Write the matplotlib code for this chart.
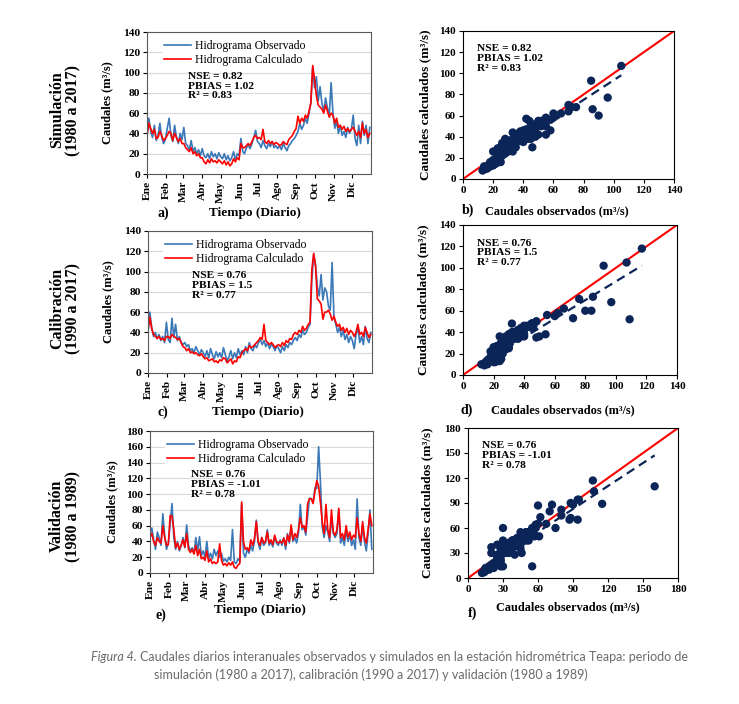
import numpy as np
import matplotlib
matplotlib.use('Agg')
import matplotlib.pyplot as plt

plt.rcParams['font.family'] = ['Liberation Serif', 'DejaVu Serif']
plt.rcParams['font.weight'] = 'bold'

W, H = 739, 704
BLUE = '#3A78B8'
RED = '#FF0000'
NAVY = '#0B2559'

# one value every 3 days (day 0, 3, ..., 363)
days = np.arange(0, 365, 3)
month_starts = [0, 31, 59, 90, 120, 151, 181, 212, 243, 273, 304, 334]
month_labels = ['Ene', 'Feb', 'Mar', 'Abr', 'May', 'Jun', 'Jul', 'Ago', 'Sep', 'Oct', 'Nov', 'Dic']

# simulacion 1980-2017
obs_sim = [40, 55, 42, 36, 48, 33, 38, 50, 36, 30, 34,
           45, 55, 38, 32, 48, 36, 30, 40, 34,
           46, 30, 28, 24, 33, 22, 26, 20, 24, 18,
           25, 18, 16, 20, 15, 22, 17, 20, 15, 21,
           17, 15, 20, 14, 18, 13, 16, 22, 14, 20, 18,
           35, 22, 20, 26, 28, 25, 30, 36, 43, 32,
           30, 26, 33, 28, 25, 30, 27, 32, 26, 28,
           25, 28, 24, 30, 26, 23, 28, 30, 33, 35,
           38, 42, 50, 44, 48, 55, 50, 60, 70, 105,
           85, 96, 72, 86, 70, 62, 75, 65, 58, 90, 60,
           45, 52, 40, 48, 38, 42, 36, 46, 40, 44,
           58, 35, 28, 48, 30, 52, 38, 48, 30, 46]
calc_sim = [38, 50, 45, 40, 44, 35, 36, 42, 38, 33, 35,
            38, 42, 40, 33, 40, 36, 32, 35, 30,
            30, 26, 24, 22, 26, 20, 22, 18, 20, 16,
            16, 12, 10, 14, 11, 15, 12, 13, 11, 14,
            12, 10, 13, 9, 12, 8, 10, 15, 12, 16, 14,
            30, 26, 26, 28, 30, 28, 32, 36, 38, 35,
            36, 34, 44, 32, 30, 33, 30, 32, 29, 31,
            30, 28, 29, 32, 30, 29, 34, 36, 38, 42,
            45, 57, 50, 55, 52, 58, 55, 62, 70, 107,
            93, 77, 68, 66, 64, 60, 68, 62, 56, 60, 58,
            50, 55, 46, 48, 44, 47, 42, 45, 42, 44,
            46, 42, 38, 42, 36, 50, 40, 44, 36, 40]

# calibracion 1990-2017
obs_cal = [40, 60, 45, 36, 40, 34, 38, 32, 36, 30, 50,
           33, 30, 54, 35, 48, 32, 36, 30, 28,
           30, 26, 28, 22, 24, 20, 26, 22, 18, 23,
           20, 16, 22, 15, 24, 18, 14, 21, 16, 20,
           15, 25, 18, 12, 16, 22, 14, 20, 15, 24, 18,
           22, 18, 26, 20, 30, 24, 22, 28, 25, 30,
           33, 28, 32, 26, 30, 24, 28, 26, 22, 27,
           24, 20, 26, 22, 28, 25, 30, 28, 32, 35,
           32, 38, 35, 42, 38, 40, 45, 48, 92, 117,
           107, 85, 76, 97, 72, 84, 80, 66, 62, 109, 55,
           48, 40, 45, 36, 42, 33, 38, 30, 36, 32,
           24, 38, 45, 30, 36, 28, 46, 34, 30, 40]
calc_cal = [42, 55, 44, 38, 36, 34, 36, 33, 34, 32, 36,
            36, 34, 38, 36, 35, 33, 34, 30, 26,
            25, 22, 24, 20, 21, 19, 20, 18, 17, 19,
            16, 14, 15, 12, 13, 14, 11, 12, 10, 13,
            12, 15, 14, 10, 12, 14, 9, 12, 11, 16, 15,
            20, 22, 24, 22, 27, 25, 26, 28, 30, 32,
            35, 33, 48, 32, 30, 28, 30, 28, 25, 27,
            28, 26, 30, 27, 32, 30, 34, 33, 38, 40,
            38, 42, 40, 46, 42, 44, 48, 50, 102, 118,
            105, 73, 71, 68, 53, 60, 60, 62, 58, 52, 56,
            50, 46, 48, 42, 45, 40, 44, 38, 42, 40,
            36, 40, 48, 38, 40, 36, 45, 40, 35, 38]

# validacion 1980-1989
obs_val = [50, 57, 42, 30, 52, 45, 35, 75, 48, 30, 38,
           62, 88, 45, 30, 40, 28, 35, 45, 32,
           61, 35, 28, 32, 25, 45, 28, 46, 22, 28,
           20, 40, 18, 25, 18, 30, 22, 28, 20, 25,
           15, 18, 14, 20, 16, 55, 14, 12, 18, 15, 88,
           25, 20, 30, 25, 35, 28, 40, 67, 38, 30,
           45, 35, 38, 55, 35, 40, 33, 45, 38, 35,
           42, 35, 45, 30, 50, 38, 58, 40, 45, 38,
           50, 87, 55, 58, 48, 72, 95, 94, 90, 108,
           107, 160, 115, 58, 45, 60, 52, 40, 70, 50, 45,
           50, 80, 38, 45, 35, 55, 40, 48, 35, 42,
           30, 94, 45, 35, 60, 40, 28, 50, 80, 30]
calc_val = [45, 50, 40, 35, 45, 40, 38, 60, 45, 35, 36,
            73, 72, 55, 32, 38, 30, 35, 42, 33,
            50, 30, 26, 30, 24, 35, 22, 30, 18, 20,
            16, 28, 14, 18, 12, 14, 12, 14, 37, 16,
            10, 12, 9, 13, 10, 14, 7, 6, 10, 12, 90,
            40, 30, 32, 28, 42, 35, 44, 65, 40, 35,
            45, 38, 40, 52, 38, 42, 36, 48, 40, 38,
            40, 38, 44, 35, 48, 40, 61, 42, 50, 45,
            55, 70, 58, 60, 52, 88, 94, 94, 88, 104,
            117, 110, 89, 64, 50, 87, 55, 45, 80, 52, 48,
            55, 82, 45, 50, 42, 60, 45, 52, 42, 48,
            45, 70, 50, 40, 65, 45, 38, 55, 75, 60]

stats_sim = 'NSE = 0.82\nPBIAS = 1.02\nR² = 0.83'
stats_cal = 'NSE = 0.76\nPBIAS = 1.5\nR² = 0.77'
stats_val = 'NSE = 0.76\nPBIAS = -1.01\nR² = 0.78'

# trend lines (slope, intercept)
trend_sim = (0.93, 0.5)
trend_cal = (0.87, 0.3)
trend_val = (0.92, 0.0)


def rect(x0, y0, x1, y1):
    return [x0 / W, 1 - y1 / H, (x1 - x0) / W, (y1 - y0) / H]


def ftext(x, y, s, **kw):
    return fig.text(x / W, 1 - y / H, s, ha='center', va='center', **kw)


def style_ax(ax, color='#404040', size=8):
    for sp in ax.spines.values():
        sp.set_linewidth(0.8)
        sp.set_color(color)
    ax.tick_params(direction='out', length=3, width=0.8, labelsize=size, pad=2)


def ts_panel(box, obs, calc, ymax, stats, stats_pos):
    ax = fig.add_axes(rect(*box))
    ax.plot(days, obs, color=BLUE, lw=1.2, label='Hidrograma Observado')
    ax.plot(days, calc, color=RED, lw=1.2, label='Hidrograma Calculado')
    ax.set_xlim(0, 365)
    ax.set_ylim(0, ymax)
    ax.set_yticks(np.arange(0, ymax + 1, 20))
    ax.set_xticks(month_starts)
    ax.set_xticklabels(month_labels, rotation=90)
    ax.yaxis.grid(True, color='#d9d9d9', lw=0.8)
    ax.set_axisbelow(True)
    style_ax(ax, color='#595959', size=8.2)
    ax.legend(loc='upper left', bbox_to_anchor=(0.04, 1.0), frameon=True,
              facecolor='white', edgecolor='none', framealpha=1,
              prop={'weight': 'normal', 'size': 8.5}, handlelength=2.3,
              handletextpad=0.3, labelspacing=0.15, borderpad=0.2)
    ax.text(stats_pos[0], stats_pos[1], stats, transform=ax.transAxes,
            fontsize=8.2, va='top', ha='left', linespacing=1.12)
    return ax


def sc_panel(box, obs, calc, lim, step, trend, stats):
    ax = fig.add_axes(rect(*box))
    ax.plot([0, lim], [0, lim], color=RED, lw=1.5, zorder=1)
    xs = np.array([min(obs), max(obs)])
    ax.plot(xs, trend[0] * xs + trend[1], color=NAVY, lw=1.6,
            ls=(0, (4, 2.5)), zorder=1)
    ax.scatter(obs, calc, s=36, color=NAVY, edgecolors='none', zorder=2)
    ax.set_xlim(0, lim)
    ax.set_ylim(0, lim)
    ax.set_xticks(np.arange(0, lim + 1, step))
    ax.set_yticks(np.arange(0, lim + 1, step))
    style_ax(ax, color='black', size=8)
    ax.text(0.065, 0.91, stats, transform=ax.transAxes, fontsize=8.2,
            va='top', ha='left', linespacing=1.12)
    return ax


fig = plt.figure(figsize=(W / 100, H / 100), dpi=100)

ts_panel((147, 32, 371, 174), obs_sim, calc_sim, 140, stats_sim, (0.185, 0.72))
ts_panel((148, 231, 372, 373), obs_cal, calc_cal, 140, stats_cal, (0.195, 0.715))
ts_panel((150, 431, 373, 573), obs_val, calc_val, 180, stats_val, (0.185, 0.725))

sc_panel((463, 31, 674, 179), obs_sim, calc_sim, 140, 20, trend_sim, stats_sim)
sc_panel((463, 225, 677, 375), obs_cal, calc_cal, 140, 20, trend_cal, stats_cal)
sc_panel((468, 428, 678, 578), obs_val, calc_val, 180, 30, trend_val, stats_val)

# row titles
for (y, l1, l2) in [(110, 'Simulación', '(1980 a 2017)'),
                    (308, 'Calibración', '(1990 a 2017)'),
                    (516, 'Validación', '(1980 a 1989)')]:
    ftext(57, y, l1, rotation=90, fontsize=11.5)
    ftext(73, y, l2, rotation=90, fontsize=11.5)

# axis labels and panel letters
for (yc, xl) in [(103, 107), (302, 108), (502, 112)]:
    ftext(xl, yc, 'Caudales (m³/s)', rotation=90, fontsize=9)
for (yc, xl) in [(105, 425), (300, 423), (503, 427)]:
    ftext(xl, yc, 'Caudales calculados (m³/s)', rotation=90, fontsize=9.5)
for (x, y) in [(255, 213), (258, 412), (260, 610)]:
    ftext(x, y, 'Tiempo (Diario)', fontsize=9.5)
for (x, y) in [(557, 211), (563, 410), (568, 607)]:
    ftext(x, y, 'Caudales observados (m³/s)', fontsize=8.8)
for (x, y, s) in [(163, 213, 'a)'), (468, 210, 'b)'), (163, 412, 'c)'),
                  (467, 410, 'd)'), (161, 615, 'e)'), (473, 613, 'f)')]:
    ftext(x, y, s, fontsize=10)

# caption
cap = dict(family=['Lato', 'DejaVu Sans'], fontsize=9, color='#6a6a6a',
           weight='normal', va='center')
t1 = fig.text(91 / W, 1 - 657 / H, 'Figura 4.', style='italic', ha='left', **cap)
renderer = fig.canvas.get_renderer()
bb = t1.get_window_extent(renderer)
fig.text((bb.x1 + 3) / W, 1 - 657 / H,
         'Caudales diarios interanuales observados y simulados en la estación '
         'hidrométrica Teapa: periodo de', ha='left', **cap)
fig.text(371 / W, 1 - 675 / H,
         'simulación (1980 a 2017), calibración (1990 a 2017) y validación (1980 a 1989)',
         ha='center', **cap)

fig.savefig('out.png', dpi=100)
